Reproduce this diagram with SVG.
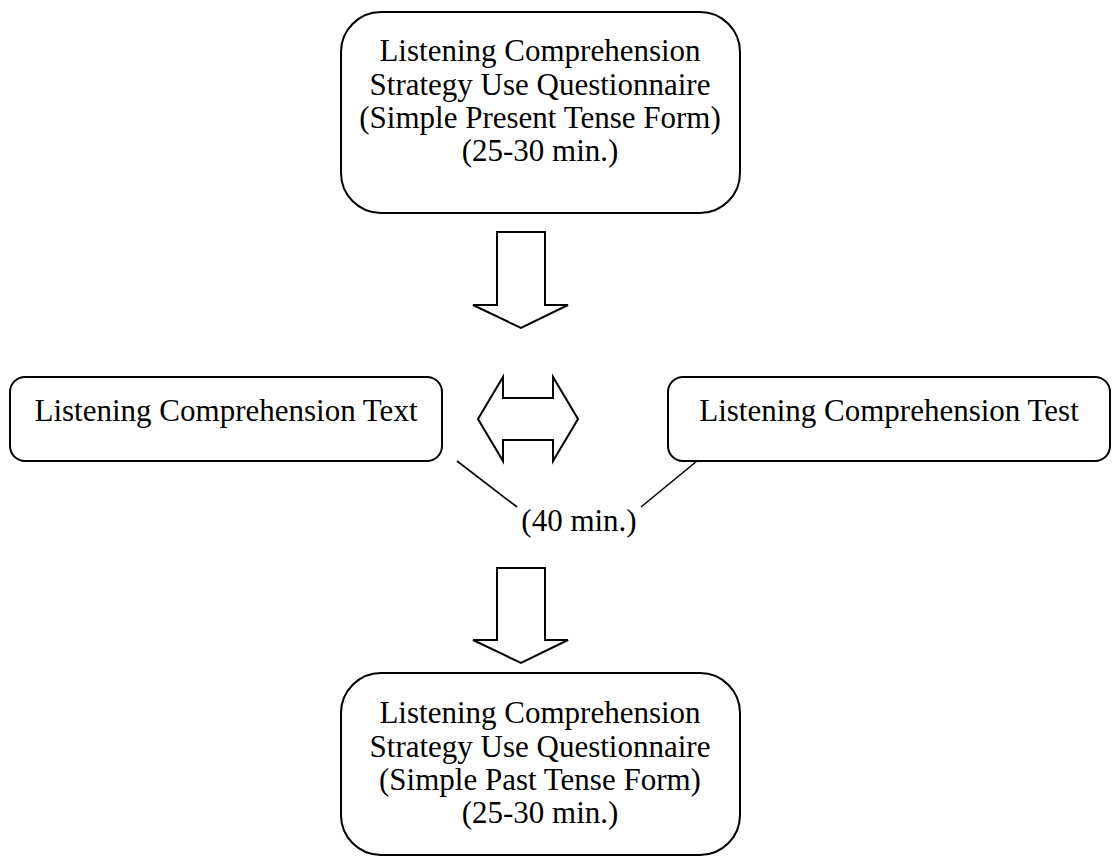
<svg xmlns="http://www.w3.org/2000/svg" width="1118" height="866" viewBox="0 0 1118 866">
<style>
.box{fill:#fff;stroke:#000;stroke-width:2}
.arr{fill:#fff;stroke:#000;stroke-width:2;stroke-linejoin:miter}
.ln{fill:none;stroke:#000;stroke-width:1.6}
text{font-family:"Liberation Serif","Times New Roman",serif;font-size:31px;fill:#000;text-anchor:middle}
</style>
<rect width="1118" height="866" fill="#fff"/>
<g id="connectors">
<path class="arr" d="M497,232 H545 V305 H568 L521,328 L473,305 H497 Z"/>
<path class="arr" d="M478,419 L503,377 V398 H553 V377 L578,419 L553,461 V440 H503 V461 Z"/>
<path class="arr" d="M497,568 H545 V640 H568 L521,663 L473,640 H497 Z"/>
<path class="ln" d="M457,461 L517,507"/>
<path class="ln" d="M697,461 L641,507"/>
</g>
<g id="top">
<rect class="box" x="341" y="12" width="399" height="201" rx="40"/>
<text x="540" y="61">Listening Comprehension</text>
<text x="540" y="95">Strategy Use Questionnaire</text>
<text x="540" y="128">(Simple Present Tense Form)</text>
<text x="540" y="161">(25-30 min.)</text>
</g>
<g id="left">
<rect class="box" x="10" y="377" width="432" height="84" rx="15"/>
<text x="226" y="421">Listening Comprehension Text</text>
</g>
<g id="right">
<rect class="box" x="668" y="377" width="442" height="84" rx="15"/>
<text x="889" y="421">Listening Comprehension Test</text>
</g>
<g id="label">
<text x="579" y="531">(40 min.)</text>
</g>
<g id="bottom">
<rect class="box" x="341" y="673" width="399" height="182" rx="40"/>
<text x="540" y="723">Listening Comprehension</text>
<text x="540" y="757">Strategy Use Questionnaire</text>
<text x="540" y="790">(Simple Past Tense Form)</text>
<text x="540" y="823">(25-30 min.)</text>
</g>
</svg>
